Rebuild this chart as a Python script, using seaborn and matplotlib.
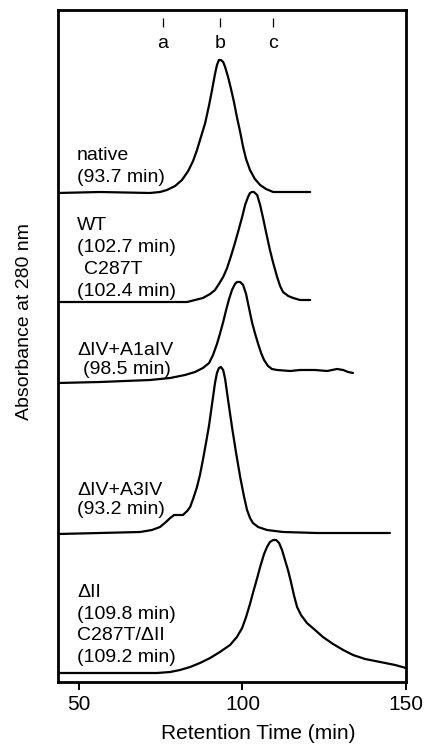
import matplotlib
matplotlib.use("Agg")
import matplotlib.pyplot as plt
import seaborn as sns
import pandas as pd

# ---- data (retention time in min, absorbance in arbitrary offset units) ----
native_t = [43.6, 56.4, 71.7, 74.8, 76.9, 79.4, 81.5, 83.4, 84.9, 86.1, 87.3, 88.6, 89.8, 90.7, 91.6, 92.2, 92.8, 93.4,
            94.1, 94.7, 95.6, 96.5, 97.4, 98.3, 99.3, 100.2, 101.1, 102.3, 103.8, 105.4, 107.2, 109.4, 114.6, 120.7]
native_a = [4.89, 4.90, 4.89, 4.90, 4.92, 4.96, 5.02, 5.11, 5.21, 5.32, 5.45, 5.59, 5.77, 5.92, 6.08, 6.17, 6.22, 6.22,
            6.20, 6.15, 6.05, 5.93, 5.80, 5.65, 5.50, 5.35, 5.23, 5.12, 5.03, 4.97, 4.93, 4.90, 4.90, 4.90]

wt_t = [43.6, 56.4, 83.1, 85.5, 87.9, 90.1, 91.6, 92.8, 94.1, 95.3, 96.5, 97.7, 98.9, 99.9, 100.8, 101.7, 102.3, 102.9,
        103.5, 104.5, 105.4, 106.3, 107.2, 108.4, 109.4, 110.6, 111.5, 112.4, 114.0, 115.5, 117.6, 120.7]
wt_a = [3.80, 3.80, 3.80, 3.82, 3.84, 3.88, 3.92, 3.98, 4.05, 4.14, 4.26, 4.39, 4.53, 4.65, 4.77, 4.85, 4.89, 4.90,
        4.90, 4.87, 4.77, 4.64, 4.50, 4.32, 4.19, 4.05, 3.96, 3.90, 3.86, 3.84, 3.82, 3.82]

a1aiv_t = [43.6, 56.4, 71.7, 77.9, 82.4, 85.5, 87.9, 89.8, 91.0, 92.2, 93.1, 94.1, 95.0, 95.9, 96.8, 97.7, 98.3, 99.3,
           100.2, 101.1, 102.0, 102.9, 103.8, 104.8, 105.7, 106.6, 107.8, 109.0, 110.6, 114.6, 117.6, 122.2, 125.9,
           128.9, 130.8, 132.3, 133.8]
a1aiv_a = [2.99, 3.00, 3.02, 3.04, 3.07, 3.10, 3.14, 3.19, 3.27, 3.38, 3.48, 3.60, 3.72, 3.83, 3.92, 3.98, 4.00, 4.00,
           3.97, 3.88, 3.74, 3.60, 3.49, 3.38, 3.29, 3.22, 3.16, 3.13, 3.12, 3.11, 3.12, 3.12, 3.11,
           3.13, 3.12, 3.10, 3.09]

a3iv_t = [43.6, 56.4, 68.7, 72.3, 74.8, 76.6, 77.9, 79.1, 81.8, 83.1, 84.0, 84.9, 86.1, 87.0, 87.9, 88.9, 89.8, 90.7,
          91.6, 92.2, 92.8, 93.4, 94.1, 94.7, 95.6, 96.8, 98.0, 99.3, 100.5, 101.4, 102.3, 103.2, 104.8, 107.5, 112.4,
          122.8, 145.1]
a3iv_a = [1.48, 1.49, 1.50, 1.52, 1.55, 1.60, 1.64, 1.67, 1.67, 1.71, 1.75, 1.83, 1.95, 2.07, 2.22, 2.40, 2.57, 2.78,
          2.99, 3.09, 3.14, 3.15, 3.12, 3.03, 2.82, 2.55, 2.30, 2.05, 1.85, 1.72, 1.64, 1.59, 1.55, 1.52, 1.50,
          1.49, 1.49]

dii_t = [43.6, 73.9, 77.9, 80.9, 84.0, 87.0, 90.1, 93.1, 96.2, 98.3, 99.9, 101.1, 102.3, 103.2, 104.5, 105.4, 106.6,
         107.5, 108.4, 109.4, 110.3, 111.2, 112.1, 113.0, 114.0, 114.9, 115.8, 116.7, 117.9, 119.7, 122.2, 124.6,
         127.7, 130.8, 133.8, 137.5, 142.1, 146.7, 150.0]
dii_a = [0.09, 0.09, 0.10, 0.12, 0.15, 0.19, 0.24, 0.30, 0.37, 0.45, 0.54, 0.65, 0.78, 0.89, 1.04, 1.15, 1.28,
         1.35, 1.40, 1.42, 1.42, 1.39, 1.32, 1.22, 1.11, 0.99, 0.86, 0.75, 0.67, 0.59, 0.52, 0.45,
         0.38, 0.32, 0.27, 0.23, 0.20, 0.17, 0.14]

trace_names = ["native", "WT", "dIV+A1aIV", "dIV+A3IV", "dII"]
trace_t = [native_t, wt_t, a1aiv_t, a3iv_t, dii_t]
trace_a = [native_a, wt_a, a1aiv_a, a3iv_a, dii_a]

# marker positions (a, b, c)
marker_labels = ["a", "b", "c"]
marker_pos = [75.7, 93.1, 109.4]

# trace annotations
ann_text = ["native", "(93.7 min)", "WT", "(102.7 min)", "C287T", "(102.4 min)",
            "\u0394IV+A1aIV", "(98.5 min)", "\u0394IV+A3IV", "(93.2 min)",
            "\u0394II", "(109.8 min)", "C287T/\u0394II", "(109.2 min)"]
ann_x = [49.4, 49.4, 49.4, 49.4, 51.6, 49.4, 49.4, 51.2, 49.4, 49.4, 49.4, 49.4, 49.4, 49.4]
ann_y = [5.22, 5.00, 4.52, 4.30, 4.08, 3.86, 3.27, 3.08, 1.87, 1.68, 0.85, 0.63, 0.42, 0.20]

x_ticks = [50, 100, 150]

# ---- build long table ----
rows = []
for name, t, a in zip(trace_names, trace_t, trace_a):
    for ti, ai in zip(t, a):
        rows.append({"trace": name, "time": ti, "abs": ai})
df = pd.DataFrame(rows)

sns.set_theme(style="white")
plt.rcParams["font.family"] = ["Liberation Sans", "DejaVu Sans"]

fig = plt.figure(figsize=(4.27, 7.51), dpi=100)
ax = fig.add_axes([58 / 427, 1 - 682 / 751, 348 / 427, 672 / 751])

sns.lineplot(data=df, x="time", y="abs", hue="trace", units="trace", estimator=None,
             sort=False, palette=["black"] * len(trace_names), linewidth=1.6,
             solid_joinstyle="round", solid_capstyle="round",
             legend=False, ax=ax)

ax.set_xlim(43.6, 150.0)
ax.set_ylim(0, 6.72)
ax.set_xticks(x_ticks)
ax.set_xticklabels([str(v) for v in x_ticks])
ax.set_yticks([])
ax.tick_params(axis="x", direction="out", length=6, width=1.4, pad=3,
               labelsize=15, colors="black", bottom=True)
for sp in ax.spines.values():
    sp.set_linewidth(2.0)
    sp.set_color("black")

ax.set_xlabel("Retention Time (min)", fontsize=15, color="black")
ax.xaxis.set_label_coords(0.575, -0.062)
ax.set_ylabel("Absorbance at 280 nm", fontsize=14, color="black")
ax.yaxis.set_label_coords(-0.072, 0.537)

# a, b, c markers
ax.vlines(marker_pos, 6.55, 6.64, color="black", linewidth=0.9)
for xp, lab in zip(marker_pos, marker_labels):
    ax.text(xp, 6.34, lab, ha="center", va="baseline", fontsize=14, color="black")

for xp, yp, s in zip(ann_x, ann_y, ann_text):
    ax.text(xp, yp, s, ha="left", va="baseline", fontsize=14, color="black")

fig.savefig("out.png", dpi=100)
